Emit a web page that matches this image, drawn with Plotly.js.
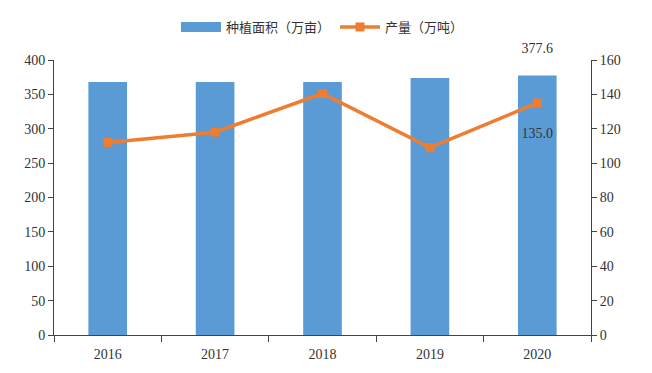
<!DOCTYPE html>
<html><head><meta charset="utf-8">
<script src="https://cdn.plot.ly/plotly-3.0.1.min.js"></script>
<style>html,body{margin:0;padding:0;background:#fff}#c{width:652px;height:373px}</style>
</head><body><div id="c"></div>
<script>
const years = ['2016','2017','2018','2019','2020'];
const area = [368, 368, 368, 374, 377.6];
const output = [112, 118, 140.5, 109, 135.0];
const areaLabels = ['', '', '', '', '377.6<br><span style="font-size:5px"> </span>'];
const outputLabels = ['', '', '', '', '<span style="font-size:10px"> </span><br>135.0'];
const areaName = '种植面积（万亩）';
const outputName = '产量（万吨）';

const numFont = {family: 'Liberation Serif, Noto Sans CJK SC, serif', size: 14, color: '#333'};
const traces = [
  {type: 'bar', x: years, y: area, name: areaName, marker: {color: '#5B9BD5'},
   width: 0.36, showlegend: false, hoverinfo: 'skip',
   text: areaLabels, textposition: 'outside', cliponaxis: false, textfont: numFont},
  {type: 'scatter', mode: 'lines', x: [0], y: [null], xaxis: 'x2', yaxis: 'y3', name: areaName,
   line: {color: '#5B9BD5', width: 11}, hoverinfo: 'skip'},
  {type: 'scatter', mode: 'lines+markers+text', x: years, y: output, yaxis: 'y2',
   name: outputName, line: {color: '#ED7D31', width: 3.5},
   marker: {symbol: 'square', size: 9, color: '#ED7D31'}, cliponaxis: false,
   text: outputLabels, textposition: 'bottom center', textfont: numFont}
];
const axisCommon = {showgrid: false, zeroline: false, showline: true, linecolor: '#444', linewidth: 1,
  ticks: 'outside', ticklen: 5, tickcolor: '#444', tickfont: numFont};
const layout = {
  width: 652, height: 373,
  margin: {l: 54, r: 61, t: 55, b: 38},
  paper_bgcolor: '#fff', plot_bgcolor: '#fff',
  showlegend: true,
  legend: {orientation: 'h', x: 0.5, xanchor: 'center', y: 1.12, yanchor: 'middle', itemwidth: 40,
    traceorder: 'normal',
    font: {family: 'Noto Sans CJK SC, sans-serif', size: 13, color: '#333'}},
  xaxis: Object.assign({}, axisCommon, {type: 'category', tickson: 'boundaries', ticklen: 6,
    ticklabelstandoff: 6}),
  yaxis: Object.assign({}, axisCommon, {range: [0, 400], dtick: 50}),
  yaxis2: Object.assign({}, axisCommon, {range: [0, 160], dtick: 20, overlaying: 'y', side: 'right'}),
  xaxis2: {overlaying: 'x', visible: false, range: [0, 1]},
  yaxis3: {overlaying: 'y', visible: false, range: [0, 1]},
  bargap: 0.64
};
Plotly.newPlot('c', traces, layout, {displayModeBar: false, staticPlot: true});
</script></body></html>
